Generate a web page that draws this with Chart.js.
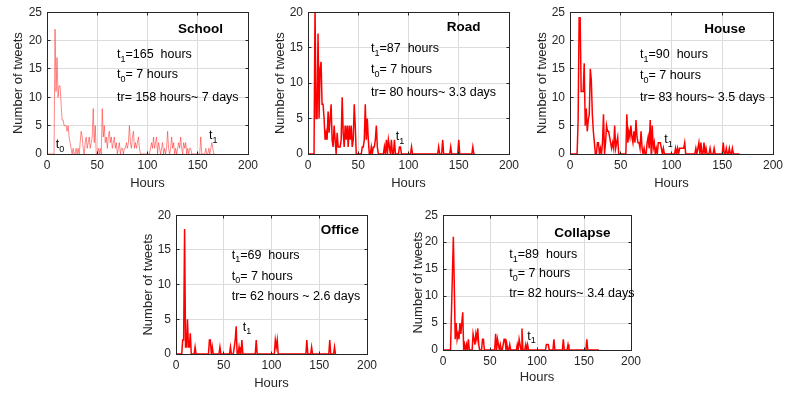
<!DOCTYPE html>
<html><head><meta charset="utf-8">
<script src="https://cdn.jsdelivr.net/npm/chart.js@4.4.0/dist/chart.umd.min.js"></script>
<style>
html,body{margin:0;padding:0;background:#fff;}
body{width:797px;height:394px;position:relative;overflow:hidden;}
canvas{position:absolute;}
</style></head><body>
<script>
// ---------------- DATA ----------------
const panelNames = ['School', 'Road', 'House', 'Office', 'Collapse'];
const t1Texts = ['t_1=165  hours', 't_1=87  hours', 't_1=90  hours', 't_1=69  hours', 't_1=89  hours'];
const t0Texts = ['t_0= 7 hours', 't_0= 7 hours', 't_0= 7 hours', 't_0= 7 hours', 't_0= 7 hours'];
const trTexts = ['tr= 158 hours~ 7 days', 'tr= 80 hours~ 3.3 days', 'tr= 83 hours~ 3.5 days', 'tr= 62 hours ~ 2.6 days', 'tr= 82 hours~ 3.4 days'];
const yMaxes = [25, 20, 25, 20, 25];
const xTickStep = 50, yTickStep = 5, xMax = 200;

const schoolHours = [0,7,8,9,10,11,12,13,14,15,16,17,18,19,20,21,22,23,24,25,26,27,28,29,30,31,32,33,34,35,36,37,38,39,40,41,42,43,44,45,46,47,48,49,50,51,52,53,54,55,56,57,58,59,60,61,62,63,64,65,66,67,68,69,70,71,72,73,74,75,76,77,78,79,80,81,82,83,84,85,86,87,88,89,90,91,92,93,102,103,104,105,106,107,108,109,110,111,112,113,114,115,116,117,118,119,120,121,122,123,124,125,126,127,128,129,130,131,132,133,134,135,136,137,138,139,140,141,142,143,144,152,153,154,157,158,159,160,161,162,163,164,165,166,167];
const schoolTweets = [0,0,
  22,11,17,10,12,12,9,6,6,5,5,5,4,5,3,2,1,
  0,1,0,0,1,0,1,0,2,4,3,1,0,2,3,1,2,3,1,2,3,
  8,2,5,0,0,1,0,1,0,8,3,5,2,3,1,3,4,2,3,1,2,3,1,2,
  0,1,2,0,1,1,0,1,1,2,1,2,5,2,1,3,4,1,2,1,2,3,1,0,
  0,
  1,2,1,3,1,2,3,0,2,1, 0,1,2,0,1,0,1,4,1,0, 1,3,1,2,0,1,0,1,2,1, 3,1,0,2,1,2,0,1,0,1, 1,0,
  0,3,0,
  0,1,0,0,1,0,1,2,1,0,0];

const roadHours = [0,6,7,8,9,10,11,12,13,14,15,16,17,18,19,20,21,22,23,24,25,26,27,28,29,30,31,32,33,34,35,36,37,38,39,40,41,42,43,44,45,46,47,48,53,54,55,56,57,58,59,60,61,62,63,64,65,66,67,68,69,70,75,76,77,78,79,80,81,82,83,84,85,86,87,90,91,92,93,102,103,104,129,130,131,133,134,135,141,142,143,149,150,151,163,164,165,166];
const roadTweets = [0,0,
  21,5,5,17,5,12,13,
  7,7,5,2,3,2,6,3,5,7, 2,1,4,2,0,3,1,1,1,2, 8,3,1,4,2,4,1,4,2,4, 1,2,7,4,0,
  0,1,1,2,7,2,5,2,0,0,1,0,1,1,2,4,1,0,
  0,1,0,2,0,2,1,0,2,0,0,2,0,
  0,1,1,0,
  0,1,0,
  0,1,0,
  0,2,0,
  0,1,0,
  0,2,0,
  0,1,0,0];

const houseHours = [0,7,8,9,10,11,12,13,14,15,16,17,18,19,20,21,22,23,24,25,26,27,28,29,30,31,32,33,34,35,36,37,38,39,40,41,42,43,44,45,46,47,48,55,56,57,58,59,60,61,62,63,64,65,66,67,68,69,70,71,72,73,74,75,76,77,78,79,80,81,82,83,84,85,86,87,88,89,90,91,92,93,103,104,105,106,107,108,109,110,111,112,113,114,123,124,125,126,127,128,129,130,131,132,133,134,135,137,138,139,141,142,143,150,151,152,153,154,155,156,157,158,159,160,161,167];
const houseTweets = [0,0,
  6,24,24,11,11,11,16,5,8,4, 6,7,15,13,7,4,2,0,0,2, 2,0,1,0,2,7,0,2,5,4, 4,3,2,1,2,1,5,1,2,3, 0,
  0,7,2,4,3,5,3,2,4,2, 6,3,2,2,1,4,1,0,1,0, 0,2,3,1,6,0,5,1,2,0, 1,0,2,2,2,1,0,1,0,
  0,1,0,1,0,1,1,1,1,1,2,0,
  0,1,0,1,2,0,2,0,0,2,0,1,0,
  0,1,0,
  0,1,0,
  0,2,0,0,1,0,0,1,0,0,1,0,
  0];

const officeHours = [0,6,7,8,9,10,11,12,13,14,15,16,19,20,21,34,35,36,37,38,39,45,46,47,56,57,58,60,61,62,63,64,65,66,67,68,69,70,83,84,85,103,104,105,106,107,136,137,138,141,142,143,160,161,162,165,166,167];
const officeTweets = [0,0,2,2,18,1,1,5,1,1,3,0,
  0,1,0,
  0,2,2,0,1,0,
  0,1,0,
  0,1,0,
  0,1,2,4,0,0,1,0,0,2,0,
  0,2,0,
  0,2,1,2,0,
  0,2,0,
  0,1,0,
  0,2,0,
  0,1,0];

const collapseHours = [0,8,11,12,13,14,15,16,17,18,19,20,21,22,23,24,25,26,27,28,29,30,31,32,33,34,35,36,37,38,39,40,41,42,43,44,54,55,56,57,58,59,60,61,62,63,64,65,66,67,68,69,70,71,72,78,79,80,81,82,83,84,85,87,88,89,90,91,109,110,111,112,113,117,118,119,127,128,129,132,133,134,152,153,154,166];
const collapseTweets = [0,0,
  21,12,2,5,2,3,2,5,3,5, 7,0,1,0,1,0,2,0,0,0, 0,3,2,1,3,2,4,1,0,0, 0,2,2,0,
  0,0,3,0,2,1,0,1,0,0,1,2,2,0,1,0,0,1,0,
  0,1,0,2,1,0,4,0,
  0,1,0,1,0,
  0,1,1,1,0,
  0,2,0,
  0,2,0,
  0,1,0,
  0,2,0,
  0];

const seriesHours = [schoolHours, roadHours, houseHours, officeHours, collapseHours];
const seriesTweets = [schoolTweets, roadTweets, houseTweets, officeTweets, collapseTweets];

// ---------------- LAYOUT / STYLE ----------------
const FONT = "'Liberation Sans', Arial, Helvetica, sans-serif";
const INK = '#262626';
const GRID = '#dcdcdc';
const layouts = [
  {box:{l:47,t:10,r:248,b:154}, ytx:18, xty:183, color:'rgba(255,40,40,0.55)', lw:1,
   title:[131,16], textX:70, textY:[41.7,61.7,84], t1:[162,122.7], t0:[8.7,131.7]},
  {box:{l:308,t:10,r:509,b:154}, ytx:280, xty:183, color:'#ff0000', lw:1.5,
   title:[138.7,14.3], textX:63, textY:[35.7,56.7,79], t1:[87.7,123.3]},
  {box:{l:570,t:10,r:773,b:154}, ytx:542, xty:183, color:'#ff0000', lw:1.5,
   title:[134.3,16], textX:70, textY:[41.7,62.3,84], t1:[94.3,126.7]},
  {box:{l:176,t:215,r:367,b:354}, ytx:148, xty:383, color:'#ff0000', lw:1.5,
   title:[144.7,14.3], textX:55.7, textY:[39,60,80.7], t1:[66.7,111]},
  {box:{l:443,t:215,r:631,b:350}, ytx:418, xty:377, color:'#ff0000', lw:1.5,
   title:[111.3,16.7], textX:66.3, textY:[38.3,57.3,77.7], t1:[84.3,120]}
];

function drawRich(ctx, str, x, cy, size, bold) {
  const parts = [];
  let re = /_(.)/g, last = 0, m;
  while ((m = re.exec(str)) !== null) {
    if (m.index > last) parts.push([str.slice(last, m.index), false]);
    parts.push([m[1], true]);
    last = m.index + m[0].length;
  }
  if (last < str.length) parts.push([str.slice(last), false]);
  const base = cy + size * 0.36;
  let cx = x;
  ctx.textAlign = 'left';
  ctx.textBaseline = 'alphabetic';
  for (const [txt, sub] of parts) {
    const s = sub ? size * 0.72 : size;
    ctx.font = (bold ? 'bold ' : '') + s + 'px ' + FONT;
    ctx.fillText(txt, cx, sub ? base + size * 0.3 : base);
    cx += ctx.measureText(txt).width;
  }
}

const framePlugin = {
  id: 'frame',
  afterDatasetsDraw(chart) {
    const o = chart.options.plugins.frame;
    const {ctx, chartArea: a, scales: {x, y}} = chart;
    const al = v => Math.round(v - 0.5) + 0.5;
    ctx.save();
    ctx.strokeStyle = INK; ctx.lineWidth = 1;
    const L = al(a.left), R = al(a.right), T = al(a.top), B = al(a.bottom);
    ctx.strokeRect(L, T, R - L, B - T);
    ctx.beginPath();
    x.ticks.forEach(t => { const px = al(x.getPixelForValue(t.value)); ctx.moveTo(px, B); ctx.lineTo(px, B - 3); ctx.moveTo(px, T); ctx.lineTo(px, T + 3); });
    y.ticks.forEach(t => { const py = al(y.getPixelForValue(t.value)); ctx.moveTo(L, py); ctx.lineTo(L + 3, py); ctx.moveTo(R, py); ctx.lineTo(R - 3, py); });
    ctx.stroke();
    ctx.fillStyle = '#000';
    drawRich(ctx, o.name, a.left + o.title[0], a.top + o.title[1], 13.5, true);
    drawRich(ctx, o.l1, a.left + o.textX, a.top + o.textY[0], 12.5, false);
    drawRich(ctx, o.l2, a.left + o.textX, a.top + o.textY[1], 12.5, false);
    drawRich(ctx, o.l3, a.left + o.textX, a.top + o.textY[2], 12.5, false);
    drawRich(ctx, 't_1', a.left + o.t1[0], a.top + o.t1[1], 12.5, false);
    if (o.t0) drawRich(ctx, 't_0', a.left + o.t0[0], a.top + o.t0[1], 12.5, false);
    ctx.restore();
  }
};

layouts.forEach((g, i) => {
  const b = g.box;
  const cl = g.ytx - 12;
  const ct = Math.max(0, b.t - 12);
  const padTop = b.t - ct;
  const cw = b.r + 16 - cl;
  const ch = g.xty + 10 - ct;
  const W = b.l - cl;
  const H = g.xty + 10 - b.b;
  const cv = document.createElement('canvas');
  cv.width = cw; cv.height = ch;
  cv.style.left = cl + 'px'; cv.style.top = ct + 'px';
  cv.style.width = cw + 'px'; cv.style.height = ch + 'px';
  document.body.appendChild(cv);
  const pts = seriesHours[i].map((h, k) => ({x: h, y: seriesTweets[i][k]}));
  new Chart(cv, {
    type: 'line',
    data: {datasets: [{data: pts, borderColor: g.color, borderWidth: g.lw, pointRadius: 0, tension: 0, fill: false, borderJoinStyle: 'miter'}]},
    options: {
      responsive: false, animation: false, events: [], devicePixelRatio: 1,
      layout: {padding: {left: 0, top: padTop, right: 16, bottom: 0}},
      plugins: {
        legend: {display: false}, tooltip: {enabled: false},
        frame: {name: panelNames[i], l1: t1Texts[i], l2: t0Texts[i], l3: trTexts[i],
                title: g.title, textX: g.textX, textY: g.textY, t1: g.t1, t0: g.t0}
      },
      scales: {
        x: {type: 'linear', min: 0, max: xMax,
            ticks: {stepSize: xTickStep, color: INK, font: {family: FONT, size: 12}, padding: 4, maxRotation: 0, autoSkip: false},
            grid: {color: GRID, drawTicks: false, lineWidth: 1},
            border: {display: false},
            title: {display: true, text: 'Hours', color: INK, font: {family: FONT, size: 13}, padding: {top: 0, bottom: 2.2}},
            afterFit: s => { s.height = H; }},
        y: {type: 'linear', min: 0, max: yMaxes[i],
            ticks: {stepSize: yTickStep, color: INK, font: {family: FONT, size: 12}, padding: 5},
            grid: {color: GRID, drawTicks: false, lineWidth: 1},
            border: {display: false},
            title: {display: true, text: 'Number of tweets', color: INK, font: {family: FONT, size: 13}, padding: {top: 4.2, bottom: 0}},
            afterFit: s => { s.width = W; }}
      }
    },
    plugins: [framePlugin]
  });
});
</script>
</body></html>
